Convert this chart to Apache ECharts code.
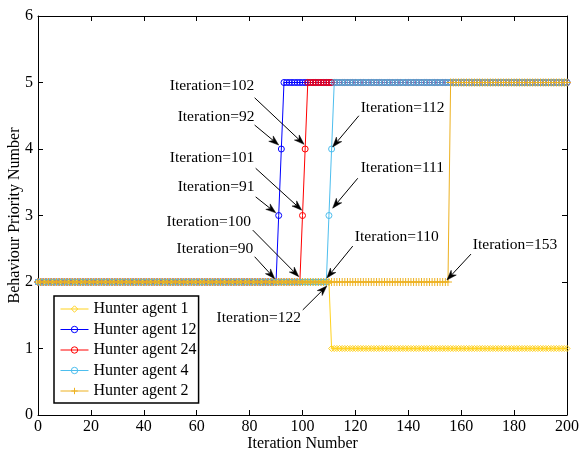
<!DOCTYPE html>
<html>
<head>
<meta charset="utf-8">
<script src="https://cdn.jsdelivr.net/npm/echarts@6/dist/echarts.min.js"></script>
<style>
html,body{margin:0;padding:0;background:#fff;}
#chart{width:580px;height:455px;}
</style>
</head>
<body>
<div id="chart"></div>
<script>
// ---- data (iteration 0..200) ----
const seriesNames = ['Hunter agent 1', 'Hunter agent 12', 'Hunter agent 24', 'Hunter agent 4', 'Hunter agent 2'];

const agent1 = [
  2,2,2,2,2,2,2,2,2,2,2,2,2,2,2,2,2,2,2,2,
  2,2,2,2,2,2,2,2,2,2,2,2,2,2,2,2,2,2,2,2,
  2,2,2,2,2,2,2,2,2,2,2,2,2,2,2,2,2,2,2,2,
  2,2,2,2,2,2,2,2,2,2,2,2,2,2,2,2,2,2,2,2,
  2,2,2,2,2,2,2,2,2,2,2,2,2,2,2,2,2,2,2,2,
  2,2,2,2,2,2,2,2,2,2,2,1,1,1,1,1,1,1,1,1,
  1,1,1,1,1,1,1,1,1,1,1,1,1,1,1,1,1,1,1,1,
  1,1,1,1,1,1,1,1,1,1,1,1,1,1,1,1,1,1,1,1,
  1,1,1,1,1,1,1,1,1,1,1,1,1,1,1,1,1,1,1,1,
  1,1,1,1,1,1,1,1,1,1,1,1,1,1,1,1,1,1,1,1,
  1
];
const agent12 = [
  2,2,2,2,2,2,2,2,2,2,2,2,2,2,2,2,2,2,2,2,
  2,2,2,2,2,2,2,2,2,2,2,2,2,2,2,2,2,2,2,2,
  2,2,2,2,2,2,2,2,2,2,2,2,2,2,2,2,2,2,2,2,
  2,2,2,2,2,2,2,2,2,2,2,2,2,2,2,2,2,2,2,2,
  2,2,2,2,2,2,2,2,2,2,2,3,4,5,5,5,5,5,5,5,
  5,5,5,5,5,5,5,5,5,5,5,5,5,5,5,5,5,5,5,5,
  5,5,5,5,5,5,5,5,5,5,5,5,5,5,5,5,5,5,5,5,
  5,5,5,5,5,5,5,5,5,5,5,5,5,5,5,5,5,5,5,5,
  5,5,5,5,5,5,5,5,5,5,5,5,5,5,5,5,5,5,5,5,
  5,5,5,5,5,5,5,5,5,5,5,5,5,5,5,5,5,5,5,5,
  5
];
const agent24 = [
  2,2,2,2,2,2,2,2,2,2,2,2,2,2,2,2,2,2,2,2,
  2,2,2,2,2,2,2,2,2,2,2,2,2,2,2,2,2,2,2,2,
  2,2,2,2,2,2,2,2,2,2,2,2,2,2,2,2,2,2,2,2,
  2,2,2,2,2,2,2,2,2,2,2,2,2,2,2,2,2,2,2,2,
  2,2,2,2,2,2,2,2,2,2,2,2,2,2,2,2,2,2,2,2,
  3,4,5,5,5,5,5,5,5,5,5,5,5,5,5,5,5,5,5,5,
  5,5,5,5,5,5,5,5,5,5,5,5,5,5,5,5,5,5,5,5,
  5,5,5,5,5,5,5,5,5,5,5,5,5,5,5,5,5,5,5,5,
  5,5,5,5,5,5,5,5,5,5,5,5,5,5,5,5,5,5,5,5,
  5,5,5,5,5,5,5,5,5,5,5,5,5,5,5,5,5,5,5,5,
  5
];
const agent4 = [
  2,2,2,2,2,2,2,2,2,2,2,2,2,2,2,2,2,2,2,2,
  2,2,2,2,2,2,2,2,2,2,2,2,2,2,2,2,2,2,2,2,
  2,2,2,2,2,2,2,2,2,2,2,2,2,2,2,2,2,2,2,2,
  2,2,2,2,2,2,2,2,2,2,2,2,2,2,2,2,2,2,2,2,
  2,2,2,2,2,2,2,2,2,2,2,2,2,2,2,2,2,2,2,2,
  2,2,2,2,2,2,2,2,2,2,3,4,5,5,5,5,5,5,5,5,
  5,5,5,5,5,5,5,5,5,5,5,5,5,5,5,5,5,5,5,5,
  5,5,5,5,5,5,5,5,5,5,5,5,5,5,5,5,5,5,5,5,
  5,5,5,5,5,5,5,5,5,5,5,5,5,5,5,5,5,5,5,5,
  5,5,5,5,5,5,5,5,5,5,5,5,5,5,5,5,5,5,5,5,
  5
];
const agent2 = [
  2,2,2,2,2,2,2,2,2,2,2,2,2,2,2,2,2,2,2,2,
  2,2,2,2,2,2,2,2,2,2,2,2,2,2,2,2,2,2,2,2,
  2,2,2,2,2,2,2,2,2,2,2,2,2,2,2,2,2,2,2,2,
  2,2,2,2,2,2,2,2,2,2,2,2,2,2,2,2,2,2,2,2,
  2,2,2,2,2,2,2,2,2,2,2,2,2,2,2,2,2,2,2,2,
  2,2,2,2,2,2,2,2,2,2,2,2,2,2,2,2,2,2,2,2,
  2,2,2,2,2,2,2,2,2,2,2,2,2,2,2,2,2,2,2,2,
  2,2,2,2,2,2,2,2,2,2,2,2,2,2,2,2,5,5,5,5,
  5,5,5,5,5,5,5,5,5,5,5,5,5,5,5,5,5,5,5,5,
  5,5,5,5,5,5,5,5,5,5,5,5,5,5,5,5,5,5,5,5,
  5
];

const xTicks = [0, 20, 40, 60, 80, 100, 120, 140, 160, 180, 200];
const yTicks = [0, 1, 2, 3, 4, 5, 6];

// annotations (data coordinates)
const annoTexts = ['Iteration=102','Iteration=92','Iteration=101','Iteration=91','Iteration=100','Iteration=90',
                   'Iteration=122','Iteration=112','Iteration=111','Iteration=110','Iteration=153'];
const annoTextAt = [[49.8,4.95],[52.8,4.48],[49.8,3.86],[52.8,3.43],[48.6,2.90],[52.4,2.50],
                    [67.5,1.46],[122.0,4.62],[122.0,3.71],[119.8,2.68],[164.4,2.56]];
const annoFrom = [[81.9,4.77],[81.9,4.36],[82.3,3.71],[82.3,3.28],[81.2,2.78],[81.9,2.38],
                  [100.1,1.58],[121.3,4.50],[120.9,3.56],[119.0,2.54],[163.7,2.42]];
const annoTo = [[100.6,4.07],[91.0,4.06],[99.7,3.08],[89.9,3.04],[98.6,2.08],[89.5,2.05],
                [109.2,1.94],[111.4,4.03],[111.4,3.11],[109.2,2.06],[154.6,2.03]];

// ---- styling ----
const FONT = "'Liberation Serif','Times New Roman',serif";
const colors = ['#FFD21F', '#0000FF', '#FF0000', '#4DBEEE', '#EDB120'];
const symbols = ['diamond', 'circle', 'circle', 'circle', 'path://M5,0L5,10M0,5L10,5'];
const symbolSizes = [6, 6, 6, 6, 8];
const allData = [agent1, agent12, agent24, agent4, agent2];

const chart = echarts.init(document.getElementById('chart'), null, {renderer: 'canvas'});

function axisCommon(showLabels) {
  return {
    axisLine: {show: true, onZero: false, lineStyle: {color: '#000', width: 1}},
    axisTick: {show: true, inside: true, length: 5, lineStyle: {color: '#000', width: 1}},
    axisLabel: {show: showLabels, color: '#000', fontSize: 16, fontFamily: FONT},
    splitLine: {show: false}
  };
}

const series = seriesNames.map((name, k) => ({
  name: name,
  type: 'line',
  xAxisIndex: 0,
  yAxisIndex: 0,
  data: allData[k].map((v, i) => [i, v]),
  symbol: symbols[k],
  symbolSize: symbolSizes[k],
  showSymbol: true,
  showAllSymbol: true,
  clip: true,
  animation: false,
  lineStyle: {color: colors[k], width: 1},
  itemStyle: {color: 'rgba(0,0,0,0)', borderColor: colors[k], borderWidth: 1},
  emphasis: {disabled: true}
}));

chart.setOption({
  animation: false,
  backgroundColor: '#fff',
  grid: {left: 38, right: 13, top: 16, bottom: 40, containLabel: false, outerBoundsMode: 'none'},
  xAxis: [
    Object.assign({type: 'value', position: 'bottom', min: 0, max: 200, interval: 20,
      name: 'Iteration Number', nameLocation: 'middle', nameGap: 21, nameMoveOverlap: false,
      nameTextStyle: {color: '#000', fontSize: 16, fontFamily: FONT}}, axisCommon(true),
      {axisLabel: {show: true, color: '#000', fontSize: 16, fontFamily: FONT, margin: 4,
        formatter: v => xTicks.includes(v) ? String(v) : ''}}),
    Object.assign({type: 'value', position: 'top', min: 0, max: 200, interval: 20}, axisCommon(false))
  ],
  yAxis: [
    Object.assign({type: 'value', position: 'left', min: 0, max: 6, interval: 1,
      name: 'Behaviour Priority Number', nameLocation: 'middle', nameGap: 15, nameMoveOverlap: false,
      nameTextStyle: {color: '#000', fontSize: 16, fontFamily: FONT}}, axisCommon(true),
      {axisLabel: {show: true, color: '#000', fontSize: 16, fontFamily: FONT, margin: 5,
        formatter: v => yTicks.includes(v) ? String(v) : ''}}),
    Object.assign({type: 'value', position: 'right', min: 0, max: 6, interval: 1}, axisCommon(false))
  ],
  legend: {
    show: true,
    data: seriesNames,
    orient: 'vertical',
    left: 54,
    top: 296,
    backgroundColor: '#fff',
    borderColor: '#000',
    borderWidth: 1.5,
    padding: [5, 2, 4, 6],
    itemWidth: 28,
    itemHeight: 8,
    itemGap: 4.5,
    selectedMode: false,
    itemStyle: {color: 'rgba(0,0,0,0)', borderColor: 'inherit', borderWidth: 1},
    lineStyle: {width: 1},
    textStyle: {color: '#000', fontSize: 16, fontFamily: FONT, lineHeight: 16}
  },
  series: series
});

// ---- annotations: arrows + text, placed through the axes ----
const graphics = [];
annoTexts.forEach((txt, i) => {
  const pt = chart.convertToPixel({gridIndex: 0}, annoTextAt[i]);
  const a = chart.convertToPixel({gridIndex: 0}, annoFrom[i]);
  const b = chart.convertToPixel({gridIndex: 0}, annoTo[i]);
  const dx = b[0] - a[0], dy = b[1] - a[1];
  const len = Math.sqrt(dx * dx + dy * dy);
  const ux = dx / len, uy = dy / len;
  const nx = -uy, ny = ux;
  const L = 10, W = 7;
  const base = [b[0] - ux * L, b[1] - uy * L];
  const notch = [b[0] - ux * L * 0.7, b[1] - uy * L * 0.7];
  graphics.push({
    type: 'line', silent: true, z: 100,
    shape: {x1: a[0], y1: a[1], x2: notch[0], y2: notch[1]},
    style: {stroke: '#000', lineWidth: 1}
  });
  graphics.push({
    type: 'polygon', silent: true, z: 100,
    shape: {points: [b, [base[0] + nx * W / 2, base[1] + ny * W / 2], notch, [base[0] - nx * W / 2, base[1] - ny * W / 2]]},
    style: {fill: '#000', stroke: '#000', lineWidth: 0.5}
  });
  graphics.push({
    type: 'text', silent: true, z: 100,
    x: pt[0], y: pt[1],
    style: {text: txt, fill: '#000', font: '15.5px ' + FONT, textAlign: 'left', textVerticalAlign: 'middle'}
  });
});
chart.setOption({graphic: graphics});
</script>
</body>
</html>
